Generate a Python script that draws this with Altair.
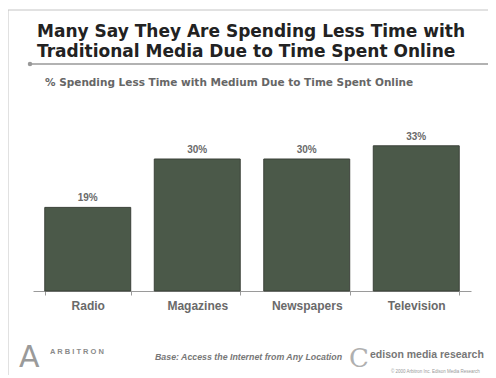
import altair as alt
import pandas as pd

media = ["Radio", "Magazines", "Newspapers", "Television"]
values = [19, 30, 30, 33]
labels = ["19%", "30%", "30%", "33%"]

title_lines = ["Many Say They Are Spending Less Time with",
               "Traditional Media Due to Time Spent Online"]
subtitle = "% Spending Less Time with Medium Due to Time Spent Online"
base_note = "Base:  Access the Internet from Any Location"
logo_left = "A R B I T R O N"
logo_right = "edison media research"
fine_print = "© 2000 Arbitron Inc. Edison Media Research"

df = pd.DataFrame({"Medium": media, "Value": values, "Label": labels})

x = alt.X("Medium:N", sort=media,
          scale=alt.Scale(paddingInner=0.215, paddingOuter=0.1075),
          axis=alt.Axis(title=None, labelAngle=0, labelFontSize=12,
                        labelFont="Liberation Sans", labelFontWeight="bold",
                        labelColor="#6a6a6a", labelPadding=5,
                        domainColor="#9a9a9a", tickColor="#9a9a9a",
                        tickBand="extent", tickSize=4))
y = alt.Y("Value:Q", scale=alt.Scale(domain=[0, 40]), axis=None)

bars = alt.Chart(df).mark_bar(color="#4b5949", stroke="#3b4139",
                              strokeWidth=1).encode(x=x, y=y)
texts = alt.Chart(df).mark_text(dy=-9, fontSize=10, fontWeight="bold",
                                font="Liberation Sans", color="#6a6a6a").encode(
    x=alt.X("Medium:N", sort=media), y="Value:Q", text="Label:N")


def txt(s, px, py, **kw):
    return alt.Chart(pd.DataFrame({"t": [s]})).mark_text(
        align="left", baseline="alphabetic", **kw).encode(
        x=alt.value(px), y=alt.value(py), text="t:N")


title1 = txt(title_lines[0], 4, -78, fontSize=17, fontWeight="bold",
             font="DejaVu Sans", color="#222222")
title2 = txt(title_lines[1], 4, -58, fontSize=17, fontWeight="bold",
             font="DejaVu Sans", color="#222222")
sub = txt(subtitle, 12, -29, fontSize=10.5, fontWeight="bold",
          font="DejaVu Sans", color="#666666")

rule = alt.Chart(pd.DataFrame({"a": [0]})).mark_rule(
    color="#999999", strokeWidth=1.5).encode(
    x=alt.value(-3), x2=alt.value(463), y=alt.value(-51))
dot = alt.Chart(pd.DataFrame({"a": [0]})).mark_point(
    filled=True, color="#999999", size=20, opacity=1).encode(
    x=alt.value(-3), y=alt.value(-51))

frame_left = alt.Chart(pd.DataFrame({"a": [0]})).mark_rule(
    color="#c4c4c4", strokeWidth=1).encode(
    x=alt.value(-25), y=alt.value(-105), y2=alt.value(262))
frame_top = alt.Chart(pd.DataFrame({"a": [0]})).mark_rule(
    color="#c4c4c4", strokeWidth=1).encode(
    x=alt.value(-25), x2=alt.value(463), y=alt.value(-105))

logoA = txt("A", -14, 252, fontSize=30, font="DejaVu Sans",
            color="#9a9a9a", fontWeight="normal")
arb = txt(logo_left, 17, 239, fontSize=7.5, font="Liberation Sans",
          color="#8a8a8a", fontWeight="bold")
base = txt(base_note, 122, 245, fontSize=8.8, font="Liberation Sans",
           color="#777777", fontWeight="bold", fontStyle="italic")
logoE = txt("C", 316, 252, fontSize=26, font="DejaVu Serif",
            color="#b0b0b0", fontWeight="normal")
edison = txt(logo_right, 337, 243, fontSize=10.5, font="Liberation Sans",
             color="#777777", fontWeight="bold")
fine = txt(fine_print, 358, 258, fontSize=4.5, font="Liberation Sans",
           color="#999999")

chart = alt.layer(frame_left, frame_top, bars, texts, title1, title2, rule,
                  dot, sub, logoA, arb, base, logoE, edison, fine).properties(
    width=438, height=176,
    padding={"left": 25, "top": 107, "right": 17, "bottom": 84},
    autosize=alt.AutoSizeParams(type="none"),
    background="#ffffff",
).configure_view(stroke=None)

chart.save("out.html", embed_options={"renderer": "svg", "actions": False})
